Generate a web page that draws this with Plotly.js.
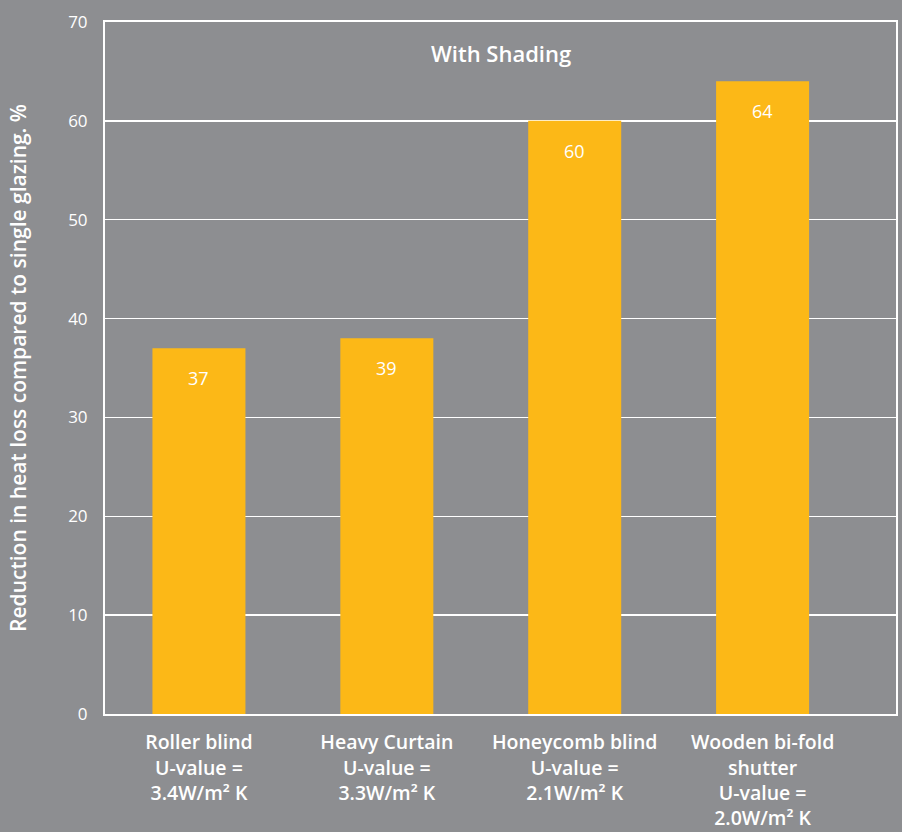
<!DOCTYPE html>
<html>
<head>
<meta charset="utf-8">
<script src="https://cdn.plot.ly/plotly-3.0.1.min.js"></script>
<style>html,body{margin:0;padding:0;background:#8d8e91;}</style>
</head>
<body>
<div id="chart" style="width:902px;height:832px;"></div>
<script>
const categories = [
  "Roller blind<br>U-value =<br>3.4W/m² K",
  "Heavy Curtain<br>U-value =<br>3.3W/m² K",
  "Honeycomb blind<br>U-value =<br>2.1W/m² K",
  "Wooden bi-fold<br>shutter<br>U-value =<br>2.0W/m² K"
];
const values = [37, 38, 60, 64];
const valueLabels = ["37", "39", "60", "64"];
const yTicks = [0, 10, 20, 30, 40, 50, 60, 70];

const bg = "#8d8e91";
const font = "'Open Sans', Lato, sans-serif";

const trace = {
  type: "bar",
  x: [0, 1, 2, 3],
  y: values,
  marker: {color: "#fcb817", line: {width: 0}},
  hoverinfo: "none"
};

const annotations = values.map((v, i) => ({
  x: i, y: v, xref: "x", yref: "y",
  text: valueLabels[i], showarrow: false,
  yanchor: "middle", yshift: -30,
  font: {family: font, size: 18, color: "#ffffff"}
}));
annotations.push({
  x: 0.5, y: 0.955, xref: "paper", yref: "paper",
  text: "With Shading", showarrow: false,
  yanchor: "middle",
  font: {family: font, size: 22, weight: 600, color: "#ffffff"}
});

const layout = {
  width: 902, height: 832,
  paper_bgcolor: bg, plot_bgcolor: bg,
  margin: {l: 105, r: 6, t: 22, b: 118},
  showlegend: false,
  bargap: 0.505,
  font: {family: font, color: "#ffffff"},
  xaxis: {
    range: [-0.5, 3.71],
    tickvals: [0, 1, 2, 3],
    ticktext: categories,
    tickfont: {family: font, size: 19.5, weight: 600, color: "#ffffff"},
    showline: true, mirror: true, linecolor: "#ffffff", linewidth: 2,
    showgrid: false, zeroline: false,
    ticks: "outside", ticklen: 10, tickcolor: bg
  },
  yaxis: {
    range: [0, 70],
    tickvals: yTicks,
    ticktext: yTicks.map(String),
    tickfont: {family: font, size: 17, color: "#ffffff"},
    showline: true, mirror: true, linecolor: "#ffffff", linewidth: 2,
    showgrid: true, gridcolor: "#ffffff", gridwidth: 1.5,
    zeroline: false,
    ticks: "outside", ticklen: 12, tickcolor: bg,
    title: {text: "Reduction in heat loss compared to single glazing. %",
            font: {family: font, size: 21, weight: 600, color: "#ffffff"}, standoff: 36}
  },
  annotations: annotations
};

Plotly.newPlot("chart", [trace], layout, {displayModeBar: false, staticPlot: true});
</script>
</body>
</html>
